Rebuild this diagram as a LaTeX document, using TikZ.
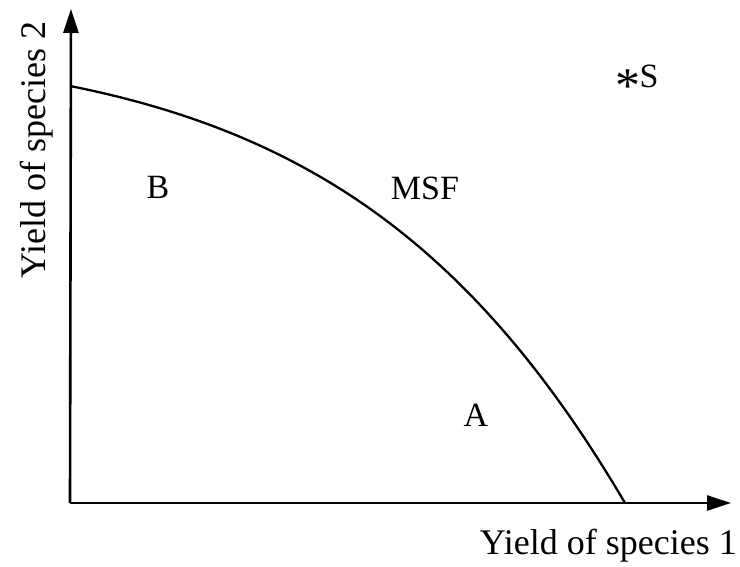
\documentclass[tikz,border=0pt]{standalone}
\usepackage{fontspec}
\setmainfont{Liberation Serif}
\usetikzlibrary{arrows.meta}

\tikzset{
  axis/.style={line width=2.6pt, -{Triangle[length=24pt,width=15pt]}},
  frontier/.style={line width=2.3pt},
  region/.style={inner sep=0pt, font=\fontsize{34}{40}\selectfont},
  axislabel/.style={inner sep=0pt, font=\fontsize{36}{40}\selectfont}
}

\begin{document}
\begin{tikzpicture}[x=1pt, y=1pt]
            \useasboundingbox (0,0) rectangle (740,567);
            % axes
            \coordinate (origin) at (70,64);
            \coordinate (ytip) at (71,558);
            \coordinate (xtip) at (731,64);
            \draw[axis] (origin) -- (ytip);
            \draw[axis] (origin) -- (xtip);
            \node[axislabel, anchor=base east] (xlab) at (737,12) {Yield of species 1};
            \node[axislabel, anchor=base, rotate=90] (ylab) at (45,417) {Yield of species 2};
            % frontier
            \coordinate (msfstart) at (70,481);
            \coordinate (msfend) at (625,64);
            \draw[frontier] (msfstart) .. controls (310,433) and (475,319) .. (msfend);
            % regions
            \node[region] (B) at (158,380) {B};
            \node[region] (MSF) at (425,379) {MSF};
            \node[region] (A) at (476,152) {A};
            \node[region, anchor=base] (S) at (637,479) {\raisebox{-15pt}{\fontsize{50}{50}\selectfont *}\kern-1pt S};
        \end{tikzpicture}
\end{document}
